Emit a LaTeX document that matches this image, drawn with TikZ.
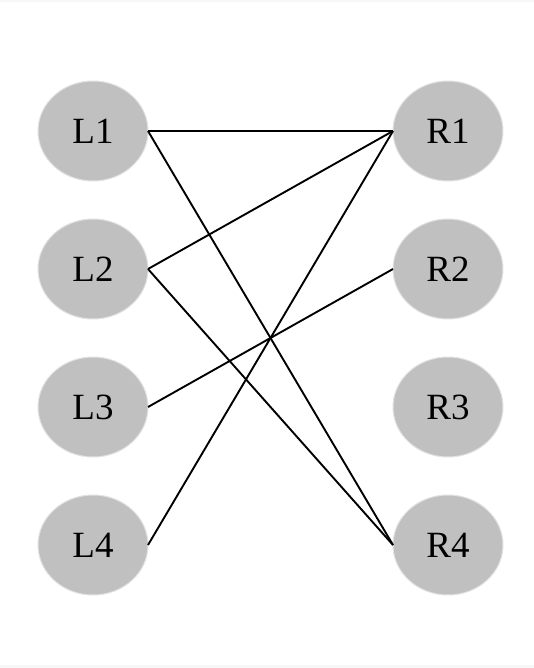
\documentclass[tikz,border=0pt]{standalone}
\usepackage{fontspec}
\setmainfont{Liberation Serif}
\usetikzlibrary{shapes.geometric}
\definecolor{nodefill}{HTML}{C0C0C0}
\definecolor{nodeedge}{HTML}{E2E2E2}
\definecolor{band}{HTML}{F7F7F7}
\tikzset{
  vert/.style={ellipse, fill=nodefill, draw=nodeedge, line width=1pt,
    minimum width=110pt, minimum height=100pt, inner sep=0pt, outer sep=0pt,
    font=\fontsize{37}{42}\selectfont, text=black},
  edge/.style={draw=black, line width=1.9pt}
}
\begin{document}
\begin{tikzpicture}[x=1pt,y=1pt]
\useasboundingbox (0,0) rectangle (534,-668);
\fill[white] (0,0) rectangle (534,-668);
\fill[band] (0,0) rectangle (534,-2.5);
\fill[band] (0,-665) rectangle (534,-668);
\node[vert] (L1) at (93,-131) {L1};
\node[vert] (L2) at (93,-269) {L2};
\node[vert] (L3) at (93,-407) {L3};
\node[vert] (L4) at (93,-545) {L4};
\node[vert] (R1) at (448,-131) {R1};
\node[vert] (R2) at (448,-269) {R2};
\node[vert] (R3) at (448,-407) {R3};
\node[vert] (R4) at (448,-545) {R4};
\draw[edge] (L1.east) -- (R1.west);
\draw[edge] (L1.east) -- (R4.west);
\draw[edge] (L2.east) -- (R1.west);
\draw[edge] (L2.east) -- (R4.west);
\draw[edge] (L3.east) -- (R2.west);
\draw[edge] (L4.east) -- (R1.west);
\end{tikzpicture}
\end{document}
